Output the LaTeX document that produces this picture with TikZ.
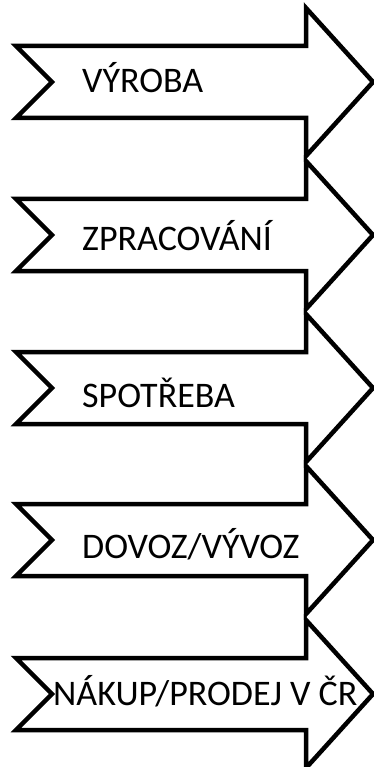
\documentclass[tikz,border=0pt]{standalone}
\usepackage{fontspec}
\setmainfont{Carlito}
\usetikzlibrary{calc}
\tikzset{
  flowarrow/.style={draw=black,fill=white,line width=4.5pt,line join=miter},
  arrowlabel/.style={anchor=base west,inner sep=0pt,font=\fontsize{36}{43}\selectfont}
}
\begin{document}
\begin{tikzpicture}[x=1pt,y=-1pt]
   \useasboundingbox (0,0) rectangle (374,767);
%% centre of arrow / baseline of text / left of text / text
\foreach \c/\b/\l/\t [count=\i] in {82/93/82/{VÝROBA}, 235/250/82/{ZPRACOVÁNÍ}, 388/407/82/{SPOTŘEBA}, 540/558/82/{DOVOZ/VÝVOZ}, 694/705/53/{NÁKUP/PRODEJ V ČR}}
  {
    \filldraw[flowarrow] (16,\c-36) -- (306,\c-36) -- (306,\c-74) -- (373,\c) -- (306,\c+74) -- (306,\c+36) -- (16,\c+36) -- (52,\c) -- cycle;
    \node[arrowlabel] (label\i) at (\l,\b) {\t};
  }
\end{tikzpicture}
\end{document}
